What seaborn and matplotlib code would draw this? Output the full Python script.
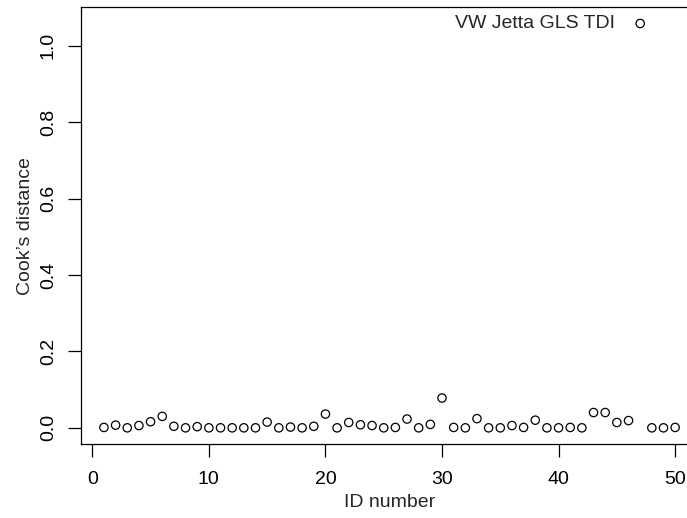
import matplotlib
matplotlib.use("Agg")
import matplotlib.pyplot as plt
import seaborn as sns
import pandas as pd
import numpy as np

ids = list(range(1, 51))
cooks = [0.001, 0.007, 0.000, 0.006, 0.016, 0.030, 0.004, 0.000, 0.003, 0.000,
         0.000, 0.000, 0.000, 0.000, 0.015, 0.000, 0.002, 0.000, 0.004, 0.036,
         0.000, 0.014, 0.008, 0.006, 0.000, 0.001, 0.023, 0.000, 0.009, 0.078,
         0.001, 0.000, 0.024, 0.000, 0.000, 0.006, 0.001, 0.020, 0.000, 0.000,
         0.001, 0.000, 0.040, 0.040, 0.014, 0.019, 1.058, 0.000, 0.000, 0.001]
label_id = 47
label_text = "VW Jetta GLS TDI"
xticks = [0, 10, 20, 30, 40, 50]
yticks = [0.0, 0.2, 0.4, 0.6, 0.8, 1.0]

sns.set_style("white")
plt.rcParams['font.family'] = ['Liberation Sans', 'DejaVu Sans']

df = pd.DataFrame({"id": ids, "cooks": cooks})

W, H = 687, 518
fig = plt.figure(figsize=(W / 100, H / 100), dpi=100)
left_px, right_px, top_px, bottom_px = 81.1, 698.0, 7.3, 444.0
ax = fig.add_axes([left_px / W, (H - bottom_px) / H,
                   (right_px - left_px) / W, (bottom_px - top_px) / H])

sns.scatterplot(data=df, x="id", y="cooks", ax=ax, marker="o", s=36,
                facecolor="none", edgecolor="black", linewidth=0.9, legend=False)

xr = max(ids) - min(ids)
yr = max(cooks) - min(cooks)
ax.set_xlim(min(ids) - 0.04 * xr, max(ids) + 0.04 * xr)
ax.set_ylim(min(cooks) - 0.04 * yr, max(cooks) + 0.04 * yr)

ax.set_xticks(xticks)
ax.set_xticklabels([str(t) for t in xticks])
ax.set_yticks(yticks)
ax.set_yticklabels([f"{t:.1f}" for t in yticks], rotation=90, va="center")

for sp in ax.spines.values():
    sp.set_visible(True)
    sp.set_color("black")
    sp.set_linewidth(0.9)
ax.spines["right"].set_visible(False)

ax.tick_params(axis="both", which="major", direction="out", length=9.5,
               width=0.9, color="black", labelsize=14, labelcolor="black",
               left=True, bottom=True)
ax.tick_params(axis="x", pad=10)
ax.tick_params(axis="y", pad=8)

ax.set_xlabel("ID number", fontsize=14, labelpad=4)
ax.set_ylabel("Cook\u2019s distance", fontsize=14, labelpad=4)

lx = label_id
ly = cooks[ids.index(label_id)]
ax.annotate(label_text, xy=(lx, ly), xytext=(-18, 0), textcoords="offset points",
            ha="right", va="center", fontsize=14)

fig.savefig("out.png", dpi=100)
